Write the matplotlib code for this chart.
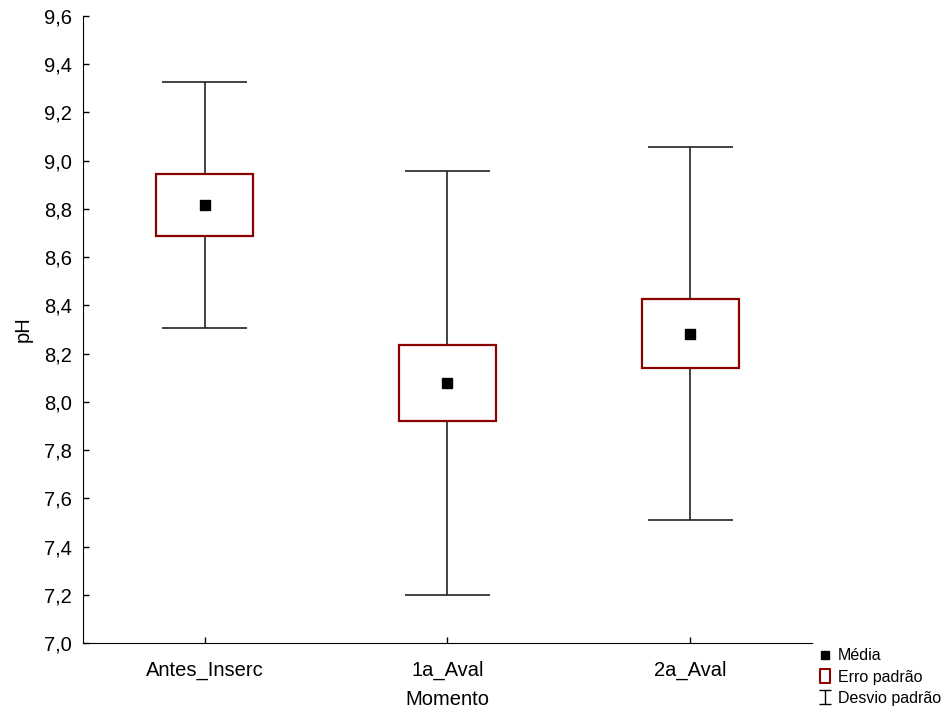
import numpy as np
import matplotlib.pyplot as plt
from matplotlib.path import Path
from matplotlib.lines import Line2D
from matplotlib.ticker import FuncFormatter, MultipleLocator

plt.rcParams['font.family'] = ['Liberation Sans', 'DejaVu Sans']

momentos = ['Antes_Inserc', '1a_Aval', '2a_Aval']
media = [8.815, 8.078, 8.283]
erro_padrao = [0.128, 0.157, 0.142]
desvio_padrao = [0.510, 0.879, 0.774]

vermelho = '#8B0000'
x = np.arange(len(momentos))
media = np.array(media)
ep = np.array(erro_padrao)
dp = np.array(desvio_padrao)

fig = plt.figure(figsize=(9.45, 7.11), dpi=100)
ax = fig.add_axes([0.088, 0.0956, 0.771, 0.882])

# desvio padrao: linha vertical e barras nas pontas
ax.vlines(x, media - dp, media + dp, color='#222222', lw=1.2, zorder=1)
ax.hlines(media - dp, x - 0.175, x + 0.175, color='#222222', lw=1.2, zorder=1)
ax.hlines(media + dp, x - 0.175, x + 0.175, color='#222222', lw=1.2, zorder=1)

# erro padrao: caixa
ax.bar(x, 2 * ep, bottom=media - ep, width=0.4, facecolor='white',
       edgecolor=vermelho, lw=1.6, zorder=2)

# media
ax.plot(x, media, 's', color='black', ms=7.5, zorder=3)

ax.set_xlim(-0.5, 2.5)
ax.set_ylim(7.0, 9.6)
ax.yaxis.set_major_locator(MultipleLocator(0.2))
ax.yaxis.set_major_formatter(FuncFormatter(lambda v, p: f'{v:.1f}'.replace('.', ',')))
ax.set_xticks(x)
ax.set_xticklabels(momentos)
ax.tick_params(direction='in', length=4, width=1, labelsize=14.5)
ax.tick_params(axis='y', pad=8)
ax.tick_params(axis='x', pad=13)
ax.spines['top'].set_visible(False)
ax.spines['right'].set_visible(False)
ax.set_xlabel('Momento', fontsize=14.5, labelpad=7)
ax.set_ylabel('pH', fontsize=14.5, labelpad=8)

# simbolos da legenda
ibeam = Path([(-0.4, 0.5), (0.4, 0.5), (0, 0.5), (0, -0.5), (-0.4, -0.5), (0.4, -0.5)],
             [Path.MOVETO, Path.LINETO, Path.MOVETO, Path.LINETO,
              Path.MOVETO, Path.LINETO])
caixa = Path([(-0.35, -0.5), (0.35, -0.5), (0.35, 0.5), (-0.35, 0.5), (-0.35, -0.5)],
             [Path.MOVETO, Path.LINETO, Path.LINETO, Path.LINETO, Path.CLOSEPOLY])
handles = [
    Line2D([], [], marker='s', color='black', ls='none', ms=5.5),
    Line2D([], [], marker=caixa, mfc='white', mec=vermelho, mew=1.5, ls='none', ms=10.5),
    Line2D([], [], marker=ibeam, color='black', mew=1, ls='none', ms=10),
]
fig.legend(handles, ['Média', 'Erro padrão', 'Desvio padrão'],
           loc='upper left', bbox_to_anchor=(0.865, 0.088), frameon=False,
           fontsize=11.5, handlelength=0.9, handletextpad=0.4,
           labelspacing=0.38, borderpad=0, borderaxespad=0)

fig.savefig('out.png', dpi=100)
